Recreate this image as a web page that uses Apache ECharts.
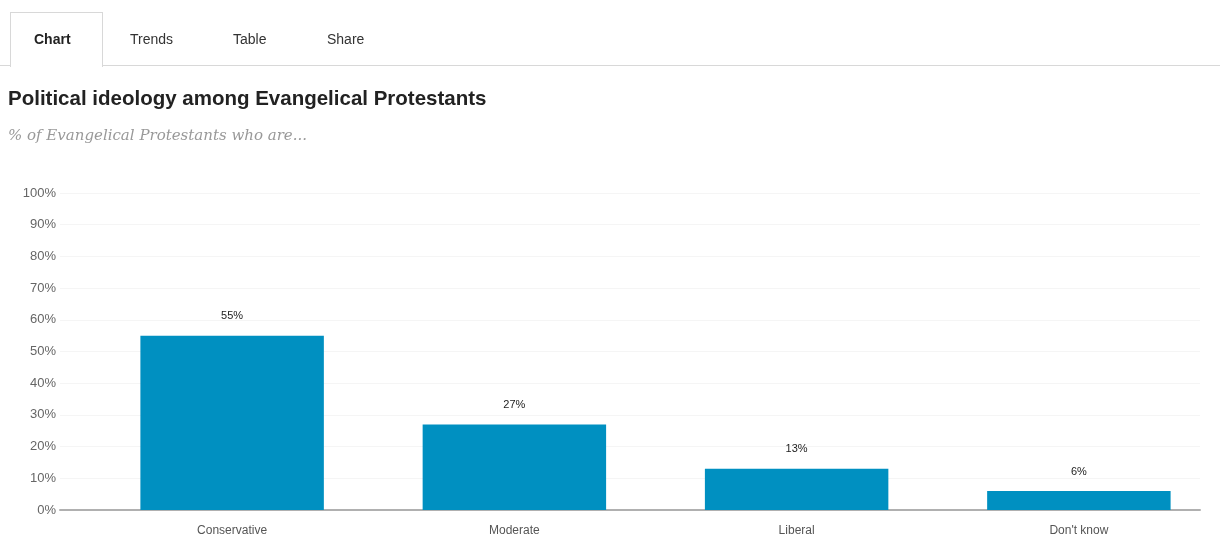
<!DOCTYPE html>
<html lang="en">
<head>
    <meta charset="UTF-8">
    <script src="https://cdn.jsdelivr.net/npm/echarts@6/dist/echarts.min.js"></script>
    <title>Political ideology</title>
    <style>
        body { margin: 0; background: #fff; font-family: "Liberation Sans", Arial, sans-serif; }
        #tabs { position: absolute; left: 0; top: 0; width: 1220px; height: 66px; }
        #tabs .line { position: absolute; left: 0; top: 65px; width: 1220px; height: 1px; background: #d8d8d8; }
        #tabs .tab { position: absolute; top: 31px; font-size: 14px; color: #333; }
        #tabs .active { position: absolute; left: 10px; top: 12px; width: 91px; height: 54px; border: 1px solid #d8d8d8; border-bottom: none; background: #fff; z-index: 2; }
        #chart { position: absolute; left: 0; top: 0; width: 1220px; height: 540px; }
    </style>
</head>
<body>
    <div id="chart"></div>
    <div id="tabs">
        <div class="line"></div>
        <div class="active"></div>
        <div class="tab" style="left:34px;font-weight:bold;color:#222;z-index:3">Chart</div>
        <div class="tab" style="left:130px">Trends</div>
        <div class="tab" style="left:233px">Table</div>
        <div class="tab" style="left:327px">Share</div>
    </div>
    <script type="text/javascript">
        var categories = ['Conservative', 'Moderate', 'Liberal', "Don't know"];
        var shares = [55, 27, 13, 6];
        var yTicks = [0, 10, 20, 30, 40, 50, 60, 70, 80, 90, 100];

        var chart = echarts.init(document.getElementById('chart'));
        var option = {
            animation: false,
            title: {
                text: 'Political ideology among Evangelical Protestants',
                subtext: '% of Evangelical Protestants who are...',
                left: 8,
                top: 89,
                padding: 0,
                itemGap: 19,
                textStyle: { fontFamily: 'Liberation Sans', fontSize: 20.5, fontWeight: 'bold', color: '#222' },
                subtextStyle: { fontFamily: 'DejaVu Serif', fontStyle: 'italic', fontSize: 15, color: '#999' }
            },
            grid: [
                // gridlines and y labels
                { left: 60, right: 20, top: 193, bottom: 30 },
                // bars
                { left: 91, right: -1, top: 193, bottom: 30 }
            ],
            xAxis: [
                {
                    type: 'category', gridIndex: 0, data: categories,
                    axisLine: { lineStyle: { color: '#b0b0b0', width: 2 } },
                    axisTick: { show: false }, axisLabel: { show: false }
                },
                {
                    type: 'category', gridIndex: 1, data: categories,
                    axisLine: { show: false }, axisTick: { show: false },
                    axisLabel: { color: '#555', fontSize: 12, margin: 15, fontFamily: 'Liberation Sans' }
                }
            ],
            yAxis: [
                {
                    type: 'value', gridIndex: 0, min: yTicks[0], max: yTicks[yTicks.length - 1], interval: 10,
                    axisLabel: { formatter: '{value}%', color: '#666', fontSize: 13, margin: 4, fontFamily: 'Liberation Sans' },
                    splitLine: { lineStyle: { color: '#f5f5f5' } },
                    axisLine: { show: false }, axisTick: { show: false }
                },
                {
                    type: 'value', gridIndex: 1, min: 0, max: 100, show: false
                }
            ],
            series: [{
                type: 'bar',
                xAxisIndex: 1,
                yAxisIndex: 1,
                data: shares,
                barWidth: '65%',
                itemStyle: { color: '#0090c1' },
                label: {
                    show: true, position: 'top', distance: 14, formatter: '{c}%',
                    color: '#222', fontSize: 11, fontFamily: 'Liberation Sans'
                }
            }]
        };
        chart.setOption(option);
    </script>
</body>
</html>
